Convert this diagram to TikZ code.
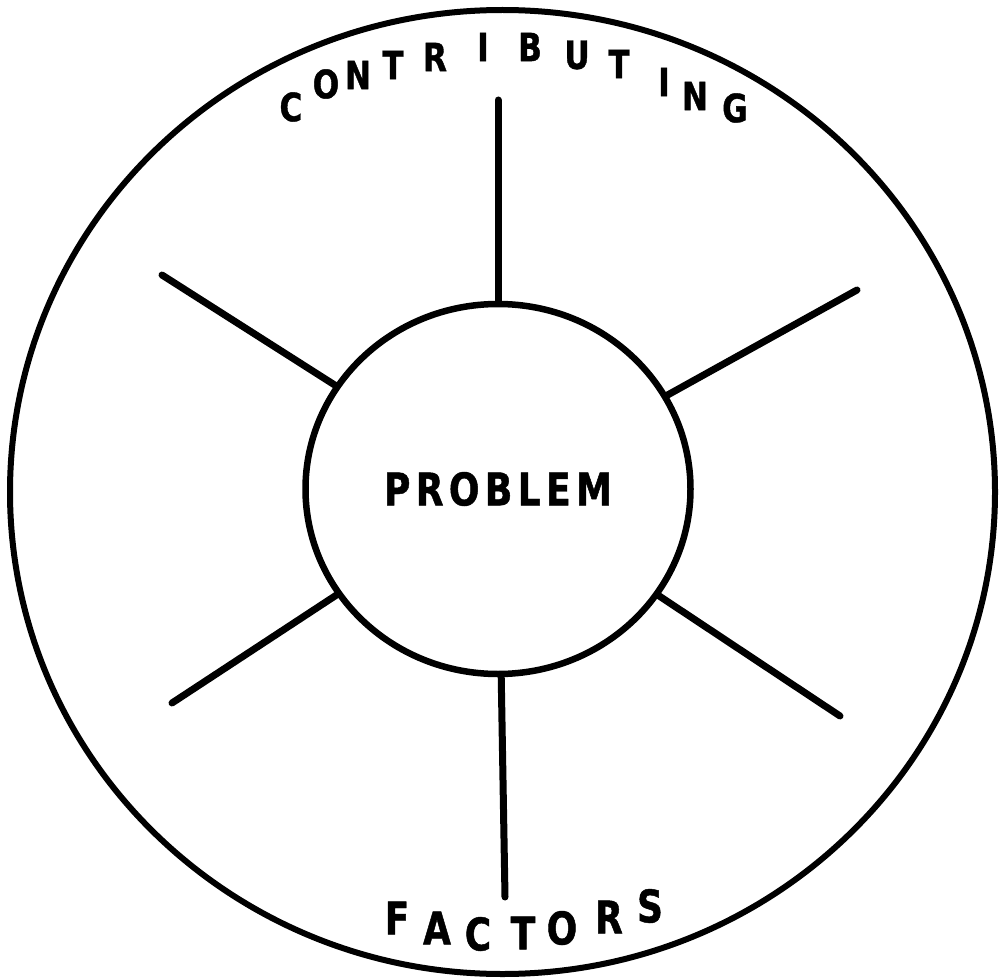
\documentclass[tikz,border=0pt]{standalone}
\usepackage{fontspec}
\newfontfamily\dsans{DejaVu Sans}[FakeBold=1,FakeStretch=0.8]
\newfontfamily\dsansls{DejaVu Sans}[FakeBold=1,FakeStretch=0.8,LetterSpace=12]
\usetikzlibrary{shapes.geometric}
\tikzset{
  ring/.style={draw=black, line width=6pt, ellipse, inner sep=0pt},
  spoke/.style={draw=black, line width=7pt, line cap=round},
  ltr/.style={inner sep=0pt, font=\dsans\bfseries\fontsize{39}{39}\selectfont},
  ltrb/.style={inner sep=0pt, font=\dsans\bfseries\fontsize{45}{45}\selectfont},
}
\begin{document}
\begin{tikzpicture}[x=1pt,y=-1pt]
\useasboundingbox (0,0) rectangle (1002,979);
\node[ring, minimum width=985pt, minimum height=964pt] (outer) at (502.5,492) {};
\node[ring, line width=6.5pt, minimum width=385pt, minimum height=370pt, font=\dsansls\bfseries\fontsize{45}{45}\selectfont] (prob) at (498,489) {PROBLEM};
% free ends of the spokes
\coordinate (t) at (498,100);
\coordinate (b) at (505,897);
\coordinate (ul) at (162,275);
\coordinate (ur) at (857,290);
\coordinate (ll) at (172,703);
\coordinate (lr) at (840,716);
\draw[spoke] (t) -- (prob);
\draw[spoke] (b) -- (prob);
\draw[spoke] (ul) -- (prob);
\draw[spoke] (ur) -- (prob);
\draw[spoke] (ll) -- (prob);
\draw[spoke] (lr) -- (prob);
% CONTRIBUTING
\node[ltr] (c1) at (291,107) {C};
\node[ltr] (c2) at (326,84) {O};
\node[ltr] (c3) at (358,75) {N};
\node[ltr] (c4) at (393,65) {T};
\node[ltr] (c5) at (435,57) {R};
\node[ltr] (c6) at (483,47) {I};
\node[ltr] (c7) at (530,47) {B};
\node[ltr] (c8) at (577,55) {U};
\node[ltr] (c9) at (619,64) {T};
\node[ltr] (c10) at (664,82) {I};
\node[ltr] (c11) at (695,96) {N};
\node[ltr] (c12) at (735,108) {G};
% FACTORS
\node[ltrb] (f1) at (397,918) {F};
\node[ltrb] (f2) at (437,928) {A};
\node[ltrb] (f3) at (478,934) {C};
\node[ltrb] (f4) at (523,933) {T};
\node[ltrb] (f5) at (562,928) {O};
\node[ltrb] (f6) at (609,917) {R};
\node[ltrb] (f7) at (650,906) {S};
\end{tikzpicture}
\end{document}
